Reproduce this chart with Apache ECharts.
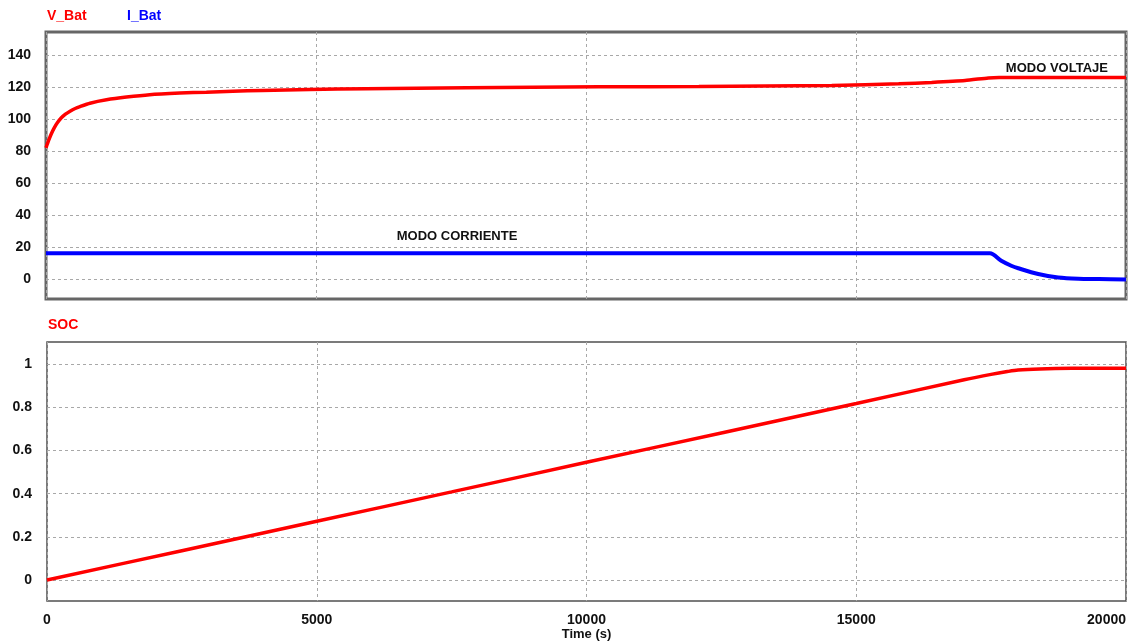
<!DOCTYPE html>
<html>
<head>
<meta charset="utf-8">
<style>
  html, body { margin: 0; padding: 0; background: #ffffff; }
  #chart { width: 1128px; height: 642px; }
</style>
<script src="https://cdn.jsdelivr.net/npm/echarts@6/dist/echarts.min.js"></script>
</head>
<body>
<div id="chart"></div>
<script>
// Battery charge simulation: voltage, current and state of charge over time (s)
const timeV = [0, 45, 95, 150, 210, 280, 360, 445, 540, 630, 815, 1120, 1490, 1920, 2480, 2970, 3460, 4000, 4880, 5930, 7780, 10240, 12090, 14550, 15790, 16400, 17020, 17450, 17650, 20000];
const vBat  = [82, 86.3, 90.5, 94.3, 97.6, 100.6, 103, 104.9, 106.6, 107.8, 109.9, 112, 113.7, 115.2, 116.2, 116.8, 117.4, 117.9, 118.5, 118.9, 119.5, 120.1, 120.3, 121, 122, 122.9, 124.1, 125.7, 126, 126];

const timeI = [0, 17480, 17690, 17875, 18005, 18375, 18745, 19115, 19500, 20000];
const iBat  = [16.1, 16.1, 11.4, 8.3, 6.7, 3.1, 1.0, 0.2, 0, -0.3];

const timeSoc = [0, 2500, 5000, 7500, 10000, 12500, 15000, 17000, 17500, 17800, 18000, 18400, 19000, 20000];
const soc     = [0, 0.136, 0.272, 0.408, 0.545, 0.681, 0.817, 0.927, 0.952, 0.965, 0.972, 0.977, 0.980, 0.981];

const xTicks = [0, 5000, 10000, 15000, 20000];
const topTicks = [0, 20, 40, 60, 80, 100, 120, 140];
const socTicks = [0, 0.2, 0.4, 0.6, 0.8, 1];

const zip = (xs, ys) => xs.map((x, i) => [x, ys[i]]);

const FONT = '"Liberation Sans", Arial, sans-serif';
const tickLabel = { color: '#111', fontWeight: 'bold', fontSize: 14, fontFamily: FONT, formatter: v => String(v) };
const gridDash = { color: '#a8a8a8', width: 1, type: [3, 3] };

const chart = echarts.init(document.getElementById('chart'), null, { renderer: 'canvas' });

chart.setOption({
  animation: false,
  backgroundColor: '#ffffff',
  grid: [
    { left: 46, right: 2, top: 32, height: 267, show: true, borderColor: '#666', borderWidth: 3,
      backgroundColor: 'transparent', containLabel: false, outerBoundsMode: 'none' },
    { left: 47, right: 2, top: 342, height: 259, show: true, borderColor: '#505050', borderWidth: 1.5,
      backgroundColor: 'transparent', containLabel: false, outerBoundsMode: 'none' }
  ],
  xAxis: [
    {
      gridIndex: 0, type: 'value', min: 0, max: 20000, interval: 5000,
      axisLine: { show: false }, axisTick: { show: false, customValues: xTicks },
      axisLabel: { show: false },
      splitLine: { show: true, lineStyle: gridDash }
    },
    {
      gridIndex: 1, type: 'value', min: 0, max: 20000, interval: 5000,
      axisLine: { show: false }, axisTick: { show: false, customValues: xTicks },
      axisLabel: Object.assign({ margin: 12, customValues: xTicks, alignMaxLabel: 'right', showMinLabel: true, showMaxLabel: true }, tickLabel),
      splitLine: { show: true, lineStyle: gridDash },
      name: 'Time (s)', nameLocation: 'middle', nameGap: 27,
      nameTextStyle: { color: '#111', fontWeight: 'bold', fontSize: 13, fontFamily: FONT }
    }
  ],
  yAxis: [
    {
      gridIndex: 0, type: 'value', min: -12.5, max: 154.4,
      axisLine: { show: false }, axisTick: { show: false, customValues: topTicks },
      axisLabel: Object.assign({ margin: 15, customValues: topTicks }, tickLabel),
      splitLine: { show: true, lineStyle: gridDash }
    },
    {
      gridIndex: 1, type: 'value', min: -0.097, max: 1.102,
      axisLine: { show: false }, axisTick: { show: false, customValues: socTicks },
      axisLabel: Object.assign({ margin: 15, customValues: socTicks }, tickLabel),
      splitLine: { show: true, lineStyle: gridDash }
    }
  ],
  series: [
    {
      name: 'V_Bat', type: 'line', xAxisIndex: 0, yAxisIndex: 0,
      data: zip(timeV, vBat), showSymbol: false, smooth: 0.2,
      lineStyle: { color: '#ff0000', width: 3.5 }, z: 3,
      markPoint: {
        symbol: 'circle', symbolSize: 0,
        label: { show: true, formatter: 'MODO VOLTAJE', color: '#111', fontWeight: 'bold', fontSize: 13, fontFamily: FONT },
        data: [{ coord: [18720, 131.9] }]
      }
    },
    {
      name: 'I_Bat', type: 'line', xAxisIndex: 0, yAxisIndex: 0,
      data: zip(timeI, iBat), showSymbol: false, smooth: 0.3,
      lineStyle: { color: '#0000ff', width: 4 }, z: 2,
      markPoint: {
        symbol: 'circle', symbolSize: 0,
        label: { show: true, formatter: 'MODO CORRIENTE', color: '#111', fontWeight: 'bold', fontSize: 13, fontFamily: FONT },
        data: [{ coord: [7611, 26.9] }]
      }
    },
    {
      name: 'SOC', type: 'line', xAxisIndex: 1, yAxisIndex: 1,
      data: zip(timeSoc, soc), showSymbol: false, smooth: 0.3,
      lineStyle: { color: '#ff0000', width: 3.5 }
    }
  ],
  graphic: [
    { type: 'text', left: 47, top: 9, style: { text: 'V_Bat', fill: '#ff0000', font: 'bold 14px ' + FONT } },
    { type: 'text', left: 127, top: 9, style: { text: 'I_Bat', fill: '#0000ff', font: 'bold 14px ' + FONT } },
    { type: 'text', left: 48, top: 318, style: { text: 'SOC', fill: '#ff0000', font: 'bold 14px ' + FONT } }
  ]
});
</script>
</body>
</html>
